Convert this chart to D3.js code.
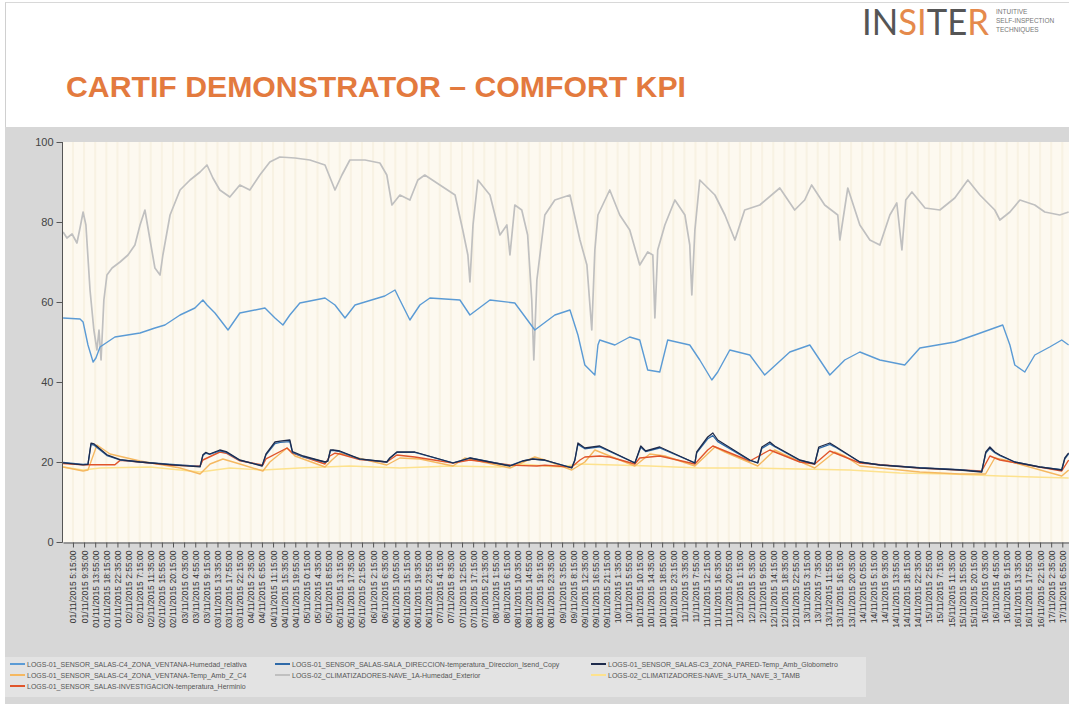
<!DOCTYPE html>
<html>
<head>
<meta charset="utf-8">
<script src="https://cdn.jsdelivr.net/npm/d3@7"></script>
<style>
  html, body { margin: 0; padding: 0; background: #ffffff; }
  svg { display: block; }
</style>
</head>
<body>
<svg id="chart" width="1069" height="704"></svg>
<script>
// ---- Data -------------------------------------------------------------
// Readings are [hours since 01/11/2015 00:00, value]
const humedadRelativa = [
  [1.4,56],[8.0,55.75],[9.2,55],[11.1,49.25],[13.1,45],[14.2,46],[15.8,48.75],[21.6,51.25],
  [31.4,52.25],[37.2,53.5],[41.1,54.25],[47.0,56.75],[52.8,58.5],[55.9,60.5],[57.5,59.25],
  [60.6,57.25],[65.7,53],[70.3,57.25],[80.1,58.5],[84,56],[87.1,54.25],[89.8,56.75],[93.7,59.75],
  [103.5,61],[107.4,59.25],[111.3,56],[115.2,59.25],[126.8,61.5],[130.8,63],[132.7,60.5],
  [136.6,55.5],[140.5,59.25],[144.4,61],[156.1,60.5],[160.0,56.75],[167.8,60.5],[177.5,59.75],
  [185.3,53],[193.1,56.75],[199.0,58],[202.1,51.75],[204.8,44.25],[208.7,41.75],[209.9,49.25],
  [210.6,50.5],[216.5,49.25],[222.3,51.25],[226.2,50.5],[229.3,43],[234.0,42.5],[237.1,50.5],
  [245.7,49.25],[249.6,45.5],[254.3,40.5],[256.6,42.5],[261.3,48],[269.1,46.75],[274.9,41.75],
  [284.7,47.5],[292.5,49.25],[296.4,45.5],[300.3,41.75],[306.1,45.5],[312,47.5],[319.8,45.5],
  [329.5,44.25],[335.4,48.5],[349.0,50],[356.8,51.75],[367.7,54.25],[370.5,49.25],[372.4,44.25],
  [376.3,42.5],[380.2,46.75],[386.0,48.75],[390.7,50.5],[393.4,49.25]
];

const humedadExterior = [
  [1.4,77.5],[2.9,76],[4.9,77],[6.8,74.75],[8.0,78.5],[9.2,82.5],[10.3,79.25],[11.9,63],
  [13.4,53],[14.6,48],[15.4,53],[16.2,45.5],[17.3,60.5],[18.5,66.75],[20.5,68.5],[23.6,70],
  [26.7,71.75],[29.4,74.25],[31.4,79.25],[33.3,83],[35.3,75.5],[37.2,68.5],[39.2,66.75],
  [40.3,71.75],[43.1,81.75],[47.0,88],[50.9,90.5],[54.8,92.5],[57.5,94.25],[59.8,91],[62.5,88],
  [66.4,86.25],[70.3,89.25],[74.2,88],[78.1,91.75],[82.0,95],[85.9,96.25],[91.8,96],[97.6,95.5],
  [103.5,94.25],[107.4,88],[110.1,91.75],[113.2,95.5],[119.1,95.5],[124.9,94.75],[127.6,91.75],
  [129.6,84.25],[132.7,86.75],[136.6,85.5],[139.7,90.5],[142.4,91.75],[148.3,89.25],[154.2,86.75],
  [157.2,78],[159.2,71.75],[160.0,65],[161.2,79.25],[163.1,90.5],[167.8,86.75],[171.7,76.75],
  [174.4,79.25],[175.6,71.75],[177.5,84.25],[180.2,83],[182.5,76.75],[184.1,60.5],[184.9,45.5],
  [186.1,65.5],[189.2,81.75],[193.1,85.5],[199.0,86.75],[202.9,75.5],[205.6,69.25],[207.5,53],
  [208.7,73],[209.9,81.75],[214.5,88],[218.4,81.75],[222.3,78],[226.2,69.25],[229.3,72.5],
  [231.3,71.75],[232.1,56],[233.2,73],[236.0,79.25],[239.9,85.5],[243.8,81.75],[245.7,74.25],
  [246.5,61.75],[247.7,78],[249.6,90.5],[255.5,86.75],[259.4,81.75],[263.3,75.5],[267.1,83],
  [273.0,84.25],[280.8,88.5],[286.6,83],[290.5,85.5],[293.2,89.25],[298.3,84.25],[303.4,81.75],
  [304.2,75.5],[307.3,88.5],[312.0,79.25],[315.9,75.5],[319.8,74.25],[323.7,81.75],[326.4,84.75],
  [328.4,73],[329.9,85.5],[332.3,87.5],[337.4,83.5],[343.2,83],[349.0,86],[354.1,90.5],
  [358.8,86.75],[364.6,83],[366.6,80.5],[370.5,82.5],[374.4,85.5],[380.2,84.25],[384.1,82.5],
  [389.9,81.75],[393.4,82.5]
];

const tempGlobometro = [
  [1.4,19.8],[9.2,19.3],[11.1,19.4],[12.3,24.7],[13.5,24.5],[18.5,21.8],[23.6,20.6],[31.4,20.0],
  [44,19.3],[54.8,18.8],[55.9,21.8],[57,22.4],[58.5,22.0],[62.5,23.0],[65,22.6],[70.3,20.5],
  [79,19.0],[80.5,22.0],[84,25.0],[86,25.2],[89.8,25.5],[90.8,22.6],[95,21.5],[103.5,20.0],
  [104.6,20.2],[105.6,23.0],[106.6,23.0],[109.3,22.75],[117,20.8],[127.6,20],[128.8,21],
  [131.5,22.5],[138.5,22.5],[153.4,19.75],[156.1,20.25],[160,21],[175.6,19],[180.6,20.25],
  [184.5,20.75],[189.2,20.5],[199.7,18.5],[200.9,20.5],[202.1,24.75],[204.8,23.5],[210.6,24],
  [224.3,19.75],[225.4,21.75],[226.6,24],[228.5,22.75],[234,23.75],[247.7,19.75],[248.4,22.5],
  [252.7,26.25],[254.7,27.25],[256.6,25.5],[269.1,20.5],[272.2,19.75],[273.8,23.75],[276.9,25],
  [278.8,24],[288.6,20.5],[294.4,19.5],[296,23.75],[300.3,24.75],[302.2,24],[312,20],
  [319.8,19.25],[335.4,18.5],[351,18],[359.5,17.5],[361.1,22.5],[362.7,23.75],[364.6,22.5],
  [366.6,21.75],[372.4,20],[382.1,18.75],[390.7,18],[391.9,21],[393.4,22.25]
];

const tempDireccion = [
  [1.4,19.9],[9.2,19.4],[11.1,19.5],[12.3,24.4],[13.5,24.2],[18.5,21.6],[23.6,20.5],[31.4,20.0],
  [44,19.4],[54.8,18.9],[55.9,21.6],[57,22.2],[58.5,21.9],[62.5,22.8],[65,22.4],[70.3,20.4],
  [79,19.1],[80.5,21.8],[84,24.6],[86,24.9],[89.8,25.1],[90.8,22.4],[95,21.3],[103.5,20.0],
  [104.6,20.2],[105.6,22.8],[106.6,22.9],[109.3,22.6],[117,20.7],[127.6,20],[128.8,21],
  [131.5,22.4],[138.5,22.4],[153.4,19.8],[156.1,20.3],[160,21],[175.6,19.1],[180.6,20.3],
  [184.5,20.7],[189.2,20.4],[199.7,18.6],[200.9,20.4],[202.1,24.4],[204.8,23.3],[210.6,23.8],
  [224.3,19.8],[225.4,21.6],[226.6,23.7],[228.5,22.6],[234,23.5],[247.7,19.8],[248.4,22.3],
  [252.7,25.8],[254.7,26.6],[256.6,25.1],[269.1,20.4],[272.2,19.8],[273.8,23.4],[276.9,24.6],
  [278.8,23.8],[288.6,20.4],[294.4,19.6],[296,23.4],[300.3,24.4],[302.2,23.8],[312,20],
  [319.8,19.3],[335.4,18.6],[351,18.1],[359.5,17.6],[361.1,22.2],[362.7,23.4],[364.6,22.3],
  [366.6,21.6],[372.4,20],[382.1,18.8],[390.7,18.1],[391.9,20.8],[393.4,22]
];

const tempHerminio = [
  [1.4,19.6],[9.2,19.3],[13.1,19.3],[21.6,19.3],[23.6,20.4],[31.4,20.0],[44,19.2],[54.8,19.0],
  [55.9,20.5],[62.5,22.5],[65,22.2],[70.3,20.3],[79.3,19.25],[80.5,20.8],[88.7,23.5],[90.8,22.2],
  [103.5,19.5],[105.4,21.5],[107.4,22.2],[109.3,22.0],[117,20.6],[127.6,20],[131.5,21.75],
  [138.5,21.25],[153.4,19.75],[160,20.5],[175.6,19.25],[180.6,19.1],[186.1,19],[189.2,19.2],
  [199.7,18.75],[202.9,20.5],[204.8,21.25],[210.6,21.5],[214.5,21.25],[224.3,19.5],[226.2,21],
  [234,21.5],[247.7,19.5],[252.7,23],[254.7,24],[269.1,20.25],[276.9,23],[288.6,20],[294.4,19.5],
  [300.3,22.75],[312,19.75],[335.4,18.5],[359.5,17.75],[362.7,21.5],[366.6,20.5],[390.7,17.75],
  [393.4,20.5]
];

const tempZC4 = [
  [1.4,18.75],[9.2,17.75],[11.1,18],[14.6,24.25],[19.7,22],[31.4,20.25],[47.0,18.5],[54.8,17],
  [58.7,19.5],[63.7,20.75],[70.3,19.5],[79.3,17.75],[82,20],[88.7,23.5],[91.8,21.5],[103.5,18.75],
  [106.2,20.5],[109.3,22.25],[113.2,21.5],[127.6,19.25],[132.7,21],[140.5,20.75],[153.4,19],
  [158,21],[175.6,18.5],[185.3,21.25],[189.2,20.5],[199.7,18],[204.8,20],[208.7,23],[218.4,20.5],
  [224.3,19],[230.1,22],[236,21.5],[247.7,19],[255.5,23.75],[259.4,22.5],[272.2,19],[278.8,23],
  [282,22],[294.4,18.5],[302.2,22.5],[306.1,21.5],[312,19],[335.4,17.5],[351,17],[361,17],
  [364.6,21],[368.5,20.5],[390.7,16.5],[393.4,18]
];

const tempNave3 = [
  [1.4,18.75],[9.2,18],[15.8,18.5],[35.3,18.75],[54.8,17.5],[66.4,18.5],[79.3,18],[93.7,18.5],
  [113.2,19],[132.7,18.5],[152.2,19],[171.7,18.75],[179.5,19.5],[195,18.75],[202.9,19.5],
  [230.1,19],[249.6,18.5],[269.1,18.5],[288.6,18.25],[308,18],[327.6,17.25],[347,17],
  [366.6,16.5],[393.4,16]
];

const seriesNames = [
  "LOGS-01_SENSOR_SALAS-C4_ZONA_VENTANA-Humedad_relativa",
  "LOGS-01_SENSOR_SALAS-C4_ZONA_VENTANA-Temp_Amb_Z_C4",
  "LOGS-01_SENSOR_SALAS-INVESTIGACION-temperatura_Herminio",
  "LOGS-01_SENSOR_SALAS-SALA_DIRECCION-temperatura_Direccion_Isend_Copy",
  "LOGS-02_CLIMATIZADORES-NAVE_1A-Humedad_Exterior",
  "LOGS-01_SENSOR_SALAS-C3_ZONA_PARED-Temp_Amb_Globometro",
  "LOGS-02_CLIMATIZADORES-NAVE_3-UTA_NAVE_3_TAMB"
];
const seriesColors = ["#5b9bd5", "#f5b860", "#e0552b", "#2f6aa8", "#c0c0c0", "#1e2b4c", "#fde28e"];
const seriesData = [humedadRelativa, tempZC4, tempHerminio, tempDireccion, humedadExterior, tempGlobometro, tempNave3];
// drawing order (back to front)
const drawOrder = [4, 0, 6, 1, 2, 3, 5];

const yTicks = [0, 20, 40, 60, 80, 100];

const xTickLabels = [
  "01/11/2015 5:15:00","01/11/2015 9:35:00","01/11/2015 13:55:00","01/11/2015 18:15:00","01/11/2015 22:35:00",
  "02/11/2015 2:55:00","02/11/2015 7:15:00","02/11/2015 11:35:00","02/11/2015 15:55:00","02/11/2015 20:15:00",
  "03/11/2015 0:35:00","03/11/2015 4:55:00","03/11/2015 9:15:00","03/11/2015 13:35:00","03/11/2015 17:55:00","03/11/2015 22:15:00",
  "04/11/2015 2:35:00","04/11/2015 6:55:00","04/11/2015 11:15:00","04/11/2015 15:35:00","04/11/2015 19:55:00",
  "05/11/2015 0:15:00","05/11/2015 4:35:00","05/11/2015 8:55:00","05/11/2015 13:15:00","05/11/2015 17:35:00","05/11/2015 21:55:00",
  "06/11/2015 2:15:00","06/11/2015 6:35:00","06/11/2015 10:55:00","06/11/2015 15:15:00","06/11/2015 19:35:00","06/11/2015 23:55:00",
  "07/11/2015 4:15:00","07/11/2015 8:35:00","07/11/2015 12:55:00","07/11/2015 17:15:00","07/11/2015 21:35:00",
  "08/11/2015 1:55:00","08/11/2015 6:15:00","08/11/2015 10:35:00","08/11/2015 14:55:00","08/11/2015 19:15:00","08/11/2015 23:35:00",
  "09/11/2015 3:55:00","09/11/2015 8:15:00","09/11/2015 12:35:00","09/11/2015 16:55:00","09/11/2015 21:15:00",
  "10/11/2015 1:35:00","10/11/2015 5:55:00","10/11/2015 10:15:00","10/11/2015 14:35:00","10/11/2015 18:55:00","10/11/2015 23:15:00",
  "11/11/2015 3:35:00","11/11/2015 7:55:00","11/11/2015 12:15:00","11/11/2015 16:35:00","11/11/2015 20:55:00",
  "12/11/2015 1:15:00","12/11/2015 5:35:00","12/11/2015 9:55:00","12/11/2015 14:15:00","12/11/2015 18:35:00","12/11/2015 22:55:00",
  "13/11/2015 3:15:00","13/11/2015 7:35:00","13/11/2015 11:55:00","13/11/2015 16:15:00","13/11/2015 20:35:00",
  "14/11/2015 0:55:00","14/11/2015 5:15:00","14/11/2015 9:35:00","14/11/2015 13:55:00","14/11/2015 18:15:00","14/11/2015 22:35:00",
  "15/11/2015 2:55:00","15/11/2015 7:15:00","15/11/2015 11:35:00","15/11/2015 15:55:00","15/11/2015 20:15:00",
  "16/11/2015 0:35:00","16/11/2015 4:55:00","16/11/2015 9:15:00","16/11/2015 13:35:00","16/11/2015 17:55:00","16/11/2015 22:15:00",
  "17/11/2015 2:35:00","17/11/2015 6:55:00"
];

// ---- Layout -----------------------------------------------------------
const W = 1069, H = 704;
const plot = { left: 63, top: 142, right: 1069, bottom: 542 };
const startTime = new Date(2015, 10, 1, 0, 0, 0);
const parseTick = d3.timeParse("%d/%m/%Y %H:%M:%S");
const toDate = h => new Date(startTime.getTime() + h * 3600 * 1000);

const svg = d3.select("#chart");

// page header
svg.append("rect").attr("x", 0).attr("y", 0).attr("width", W).attr("height", H).attr("fill", "#ffffff");
svg.append("line").attr("x1", 5.5).attr("x2", 5.5).attr("y1", 2).attr("y2", 127).attr("stroke", "#d0d0d0");
svg.append("line").attr("x1", 5.5).attr("x2", W).attr("y1", 2.5).attr("y2", 2.5).attr("stroke", "#d8d8d8");

svg.append("text")
  .attr("x", 66).attr("y", 97)
  .attr("font-family", "'Liberation Sans Narrow', 'Arial Narrow', 'Liberation Sans', Arial, sans-serif")
  .attr("font-weight", "bold").attr("font-size", 30)
  .attr("fill", "#e37a3e")
  .attr("textLength", 620).attr("lengthAdjust", "spacingAndGlyphs")
  .text("CARTIF DEMONSTRATOR – COMFORT KPI");

// logo
const logo = svg.append("text")
  .attr("x", 862).attr("y", 35)
  .attr("font-family", "Lato, 'Open Sans', sans-serif")
  .attr("font-weight", 400).attr("font-size", 36)
  .attr("textLength", 127).attr("lengthAdjust", "spacingAndGlyphs");
[["IN", "#555555"], ["SI", "#e58a4c"], ["TE", "#555555"], ["R", "#e58a4c"]].forEach(([t, c]) => {
  logo.append("tspan").attr("fill", c).text(t);
});
["INTUITIVE", "SELF-INSPECTION", "TECHNIQUES"].forEach((t, i) => {
  svg.append("text").attr("x", 996).attr("y", 14 + i * 9)
    .attr("font-family", "'Liberation Sans', Arial, sans-serif").attr("font-size", 6.5)
    .attr("fill", "#777").text(t);
});

// grey chart panel
svg.append("rect").attr("x", 5).attr("y", 127).attr("width", W - 5).attr("height", H - 127).attr("fill", "#d7d7d7");

// ---- Scales -----------------------------------------------------------
const x = d3.scaleTime()
  .domain([new Date(2015, 10, 1, 1, 22), new Date(2015, 10, 17, 9, 32)])
  .range([plot.left, plot.right]);
const y = d3.scaleLinear().domain([0, 100]).range([plot.bottom, plot.top]);

const tickDates = xTickLabels.map(parseTick);

// plot background with faint vertical banding
svg.append("rect").attr("x", plot.left).attr("y", plot.top)
  .attr("width", plot.right - plot.left).attr("height", plot.bottom - plot.top)
  .attr("fill", "#fdf9f0");
svg.append("g").selectAll("line").data(tickDates).join("line")
  .attr("x1", d => x(d)).attr("x2", d => x(d))
  .attr("y1", plot.top).attr("y2", plot.bottom)
  .attr("stroke", "#f6eedb").attr("stroke-width", 2).attr("opacity", 0.6);

svg.append("clipPath").attr("id", "plotClip").append("rect")
  .attr("x", plot.left).attr("y", plot.top - 5)
  .attr("width", plot.right - plot.left).attr("height", plot.bottom - plot.top + 5);

// ---- Lines ------------------------------------------------------------
const line = d3.line().x(d => x(toDate(d[0]))).y(d => y(d[1]));
const gLines = svg.append("g").attr("clip-path", "url(#plotClip)");
drawOrder.forEach(i => {
  gLines.append("path")
    .attr("d", line(seriesData[i]))
    .attr("fill", "none")
    .attr("stroke", seriesColors[i])
    .attr("stroke-width", i === 4 ? 1.7 : (i === 5 || i === 3 ? 1.3 : 1.4))
    .attr("stroke-linejoin", "round");
});

// ---- Axes -------------------------------------------------------------
const yAxis = svg.append("g").attr("transform", `translate(${plot.left - 0.5},0)`)
  .call(d3.axisLeft(y).tickValues(yTicks).tickSize(6).tickPadding(3));
yAxis.select(".domain").attr("stroke", "#555").attr("d", `M0,${plot.top}V${plot.bottom + 0.5}`);
yAxis.selectAll(".tick line").attr("stroke", "#555");
yAxis.selectAll(".tick text")
  .attr("font-family", "'Liberation Sans', Arial, sans-serif").attr("font-size", 11).attr("fill", "#444");

const xAxis = svg.append("g").attr("transform", `translate(0,${plot.bottom + 0.5})`)
  .call(d3.axisBottom(x).tickValues(tickDates).tickFormat((d, i) => xTickLabels[i]).tickSize(5).tickSizeOuter(0));
xAxis.select(".domain").attr("stroke", "#555");
xAxis.selectAll(".tick line").attr("stroke", "#555");
xAxis.selectAll(".tick text")
  .attr("font-family", "'Liberation Sans', Arial, sans-serif").attr("font-size", 8.5).attr("fill", "#333")
  .attr("text-anchor", "end")
  .attr("transform", "rotate(-90)")
  .attr("x", -8).attr("y", 0).attr("dy", "0.35em");

// ---- Legend -----------------------------------------------------------
svg.append("rect").attr("x", 5).attr("y", 657).attr("width", 861).attr("height", 40).attr("fill", "#e3e3e3");
const legendPos = [
  [10, 664], [10, 675], [10, 686],
  [275, 664], [275, 675],
  [591, 664], [591, 675]
];
seriesNames.forEach((name, i) => {
  const [lx, ly] = legendPos[i];
  svg.append("line").attr("x1", lx).attr("x2", lx + 15).attr("y1", ly).attr("y2", ly)
    .attr("stroke", seriesColors[i]).attr("stroke-width", 2);
  svg.append("text").attr("x", lx + 17).attr("y", ly + 2.5)
    .attr("font-family", "'Liberation Sans', Arial, sans-serif").attr("font-size", 7)
    .attr("fill", "#555").text(name);
});
</script>
</body>
</html>
